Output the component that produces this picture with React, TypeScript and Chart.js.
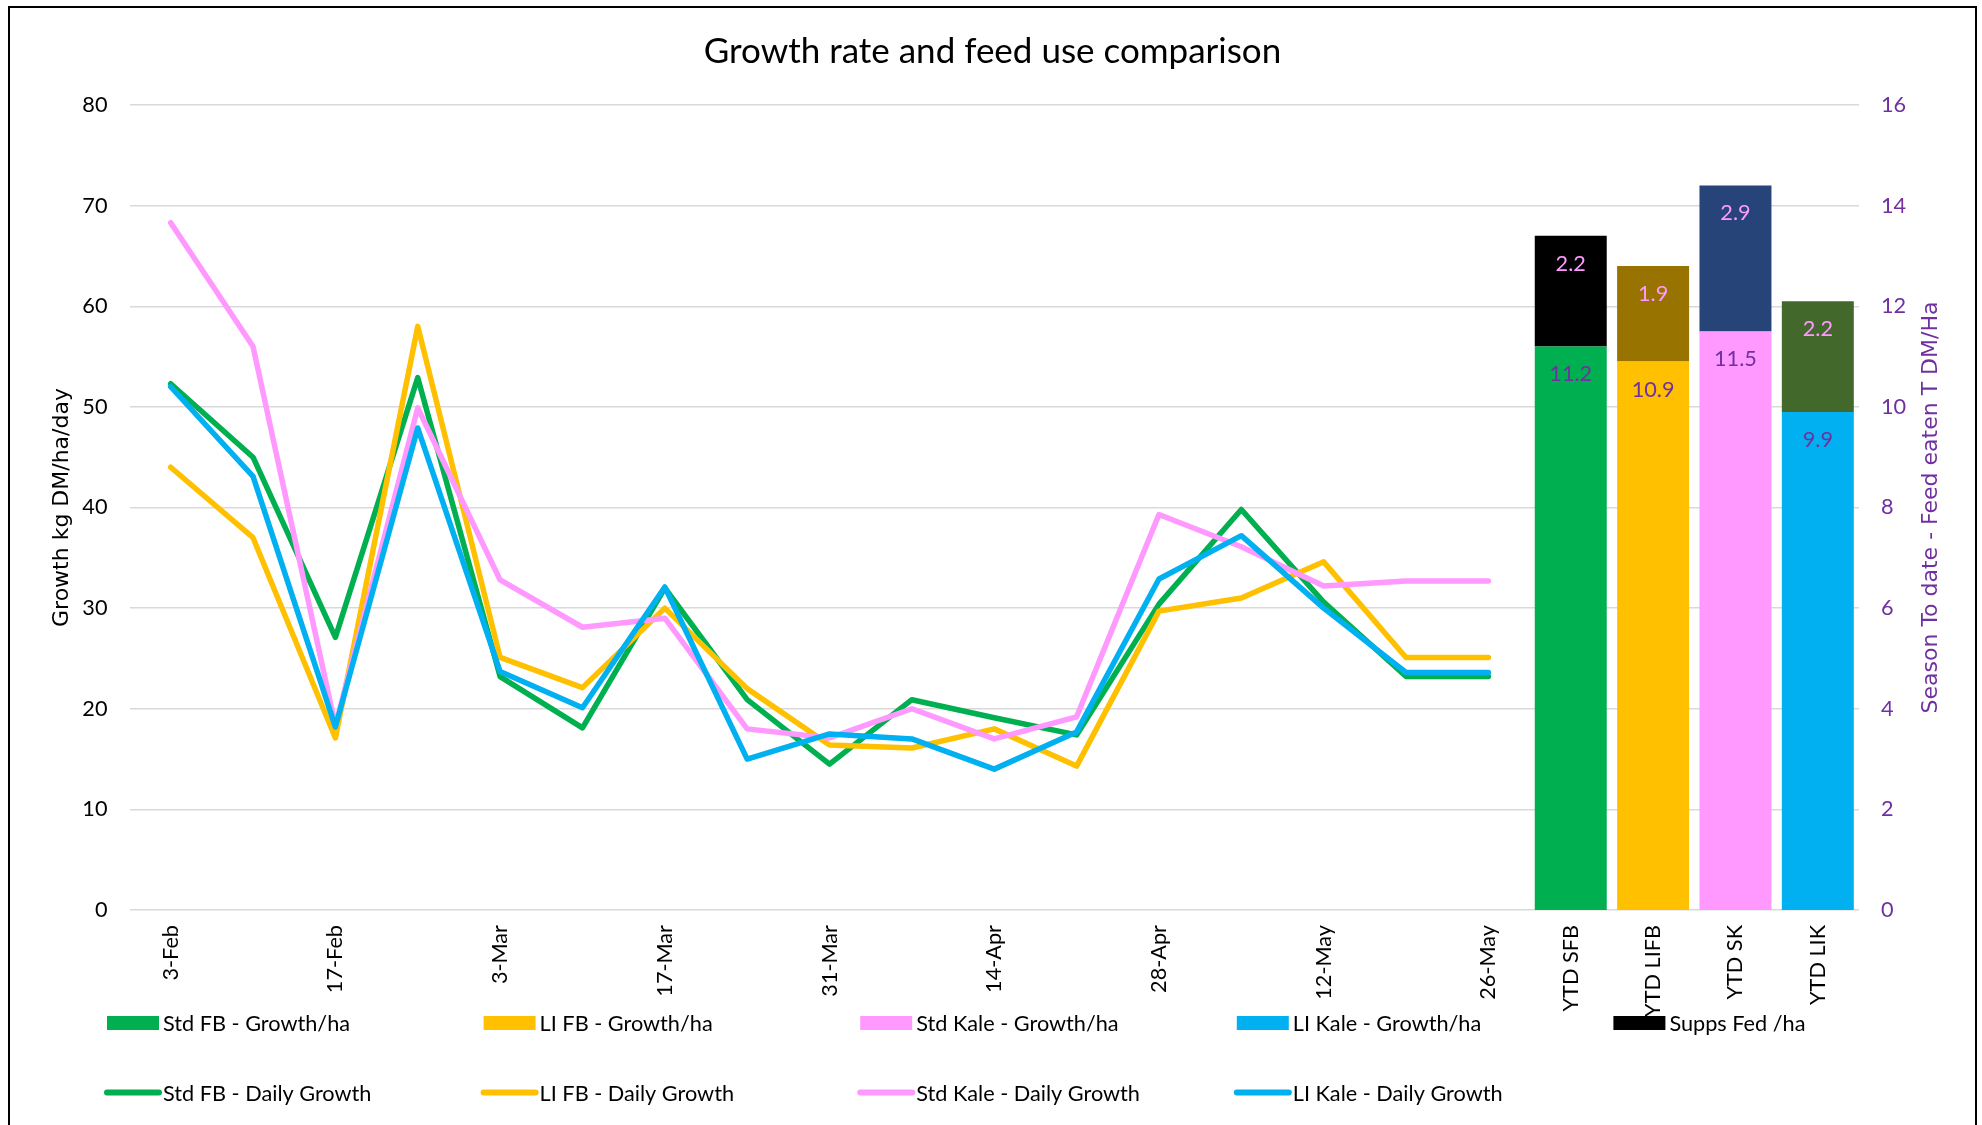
import React, { useEffect, useRef } from 'react';
import { Chart, registerables } from 'chart.js';

Chart.register(...registerables);

const categories = [
  '3-Feb', '10-Feb', '17-Feb', '24-Feb', '3-Mar', '10-Mar', '17-Mar', '24-Mar', '31-Mar',
  '7-Apr', '14-Apr', '21-Apr', '28-Apr', '5-May', '12-May', '19-May', '26-May',
  'YTD SFB', 'YTD LIFB', 'YTD SK', 'YTD LIK',
];

const stdFbDaily = [52.3, 45.0, 27.1, 52.9, 23.2, 18.1, 32.0, 20.9, 14.5, 20.9, 19.1, 17.4, 30.4, 39.8, 30.6, 23.2, 23.2];
const liFbDaily = [44.0, 37.0, 17.1, 58.0, 25.1, 22.1, 30.0, 22.0, 16.4, 16.1, 18.0, 14.3, 29.7, 31.0, 34.6, 25.1, 25.1];
const stdKaleDaily = [68.3, 56.0, 18.3, 49.9, 32.8, 28.1, 29.0, 18.0, 17.1, 20.0, 17.0, 19.2, 39.3, 36.1, 32.2, 32.7, 32.7];
const liKaleDaily = [52.0, 43.1, 18.2, 47.9, 23.7, 20.1, 32.1, 15.0, 17.5, 17.0, 14.0, 17.7, 32.9, 37.2, 30.0, 23.6, 23.6];

const ytdGrowth = [11.2, 10.9, 11.5, 9.9];
const suppsFed = [2.2, 1.9, 2.9, 2.2];

const growthNames = ['Std FB - Growth/ha', 'LI FB - Growth/ha', 'Std Kale - Growth/ha', 'LI Kale - Growth/ha'];
const dailyNames = ['Std FB - Daily Growth', 'LI FB - Daily Growth', 'Std Kale - Daily Growth', 'LI Kale - Daily Growth'];
const suppsName = 'Supps Fed /ha';
const seriesColors = ['#00B050', '#FFC000', '#FF99FF', '#00B0F0'];
const suppsColors = ['#000000', '#997300', '#264478', '#43682B'];
const suppsLegendColor = '#000000';

const chartTitle = 'Growth rate and feed use comparison';
const leftAxisTitle = 'Growth kg DM/ha/day';
const rightAxisTitle = 'Season To date - Feed eaten T DM/Ha';

const PURPLE = '#7030A0';
const LABEL_PINK = '#FF99FF';
const CAL = 'Lato, "Noto Sans", sans-serif';
const VER = '"DejaVu Sans", Verdana, sans-serif';
const SMALL = 21.7;

const firstYtd = stdFbDaily.length;

const legendPlugin = {
  id: 'customLegend',
  afterDraw(chart: any) {
    const ctx = chart.ctx;
    const ds = chart.data.datasets;
    const colX0 = 97;
    const colStep = 376.6;
    const rowY = [1015, 1084.6];
    ctx.save();
    ctx.font = `${SMALL}px ${CAL}`;
    ctx.textBaseline = 'middle';
    ctx.textAlign = 'left';
    ds.forEach((d: any, i: number) => {
      const row = d.type === 'bar' ? 0 : 1;
      const col = row === 0 ? i : i - 5;
      const x = colX0 + col * colStep;
      const y = rowY[row];
      if (row === 0) {
        ctx.fillStyle = d.legendColor;
        ctx.fillRect(x, y - 7, 52, 14);
      } else {
        ctx.strokeStyle = d.borderColor;
        ctx.lineWidth = 6;
        ctx.lineCap = 'round';
        ctx.beginPath();
        ctx.moveTo(x, y);
        ctx.lineTo(x + 52, y);
        ctx.stroke();
      }
      ctx.fillStyle = '#000000';
      ctx.fillText(d.label, x + 56, y + 1);
    });
    // right axis title, reading bottom to top
    const ca = chart.chartArea;
    ctx.translate(ca.right + 72, (ca.top + ca.bottom) / 2);
    ctx.rotate(-Math.PI / 2);
    ctx.font = `22px ${VER}`;
    ctx.fillStyle = PURPLE;
    ctx.textAlign = 'center';
    ctx.fillText(rightAxisTitle, 0, 0);
    ctx.restore();
  },
};

const barLabelPlugin = {
  id: 'barLabels',
  afterDatasetsDraw(chart: any) {
    const ctx = chart.ctx;
    ctx.save();
    ctx.font = `${SMALL}px ${CAL}`;
    ctx.textAlign = 'center';
    ctx.textBaseline = 'middle';
    chart.data.datasets.forEach((d: any, di: number) => {
      if (d.type !== 'bar') return;
      const meta = chart.getDatasetMeta(di);
      meta.data.forEach((el: any, i: number) => {
        const v = d.data[i];
        if (v === null || v === undefined) return;
        ctx.fillStyle = d.labelColor;
        ctx.fillText(Number(v).toFixed(1), el.x, el.y + 28);
      });
    });
    ctx.restore();
  },
};

export default function App() {
  const ref = useRef<HTMLCanvasElement>(null);

  useEffect(() => {
    document.body.style.overflow = 'hidden';
    document.documentElement.style.overflow = 'hidden';
    const canvas = ref.current;
    if (!canvas) return;

    const growthBars = growthNames.map((name, k) => ({
      type: 'bar' as const,
      label: name,
      data: categories.map((_, i) => (i === firstYtd + k ? ytdGrowth[k] : null)),
      backgroundColor: seriesColors[k],
      legendColor: seriesColors[k],
      labelColor: PURPLE,
      yAxisID: 'y1',
      stack: 'ytd',
      order: 10,
      categoryPercentage: 1,
      barPercentage: 0.874,
    }));
    const suppsBar = {
      type: 'bar' as const,
      label: suppsName,
      data: categories.map((_, i) => (i >= firstYtd ? suppsFed[i - firstYtd] : null)),
      backgroundColor: categories.map((_, i) => (i >= firstYtd ? suppsColors[i - firstYtd] : 'transparent')),
      legendColor: suppsLegendColor,
      labelColor: LABEL_PINK,
      yAxisID: 'y1',
      stack: 'ytd',
      order: 10,
      categoryPercentage: 1,
      barPercentage: 0.874,
    };
    const dailySeries = [stdFbDaily, liFbDaily, stdKaleDaily, liKaleDaily];
    const lines = dailyNames.map((name, k) => ({
      type: 'line' as const,
      label: name,
      data: dailySeries[k],
      borderColor: seriesColors[k],
      backgroundColor: seriesColors[k],
      borderWidth: 5.5,
      pointRadius: 0,
      tension: 0,
      borderJoinStyle: 'round' as const,
      borderCapStyle: 'round' as const,
      yAxisID: 'y',
      order: 4 - k,
    }));

    const chart = new Chart(canvas, {
      data: {
        labels: categories,
        datasets: [...growthBars, suppsBar, ...lines] as any,
      },
      options: {
        animation: false,
        responsive: false,
        devicePixelRatio: 1,
        layout: { padding: { left: 0, right: 0, top: 0, bottom: 98 } },
        plugins: {
          legend: { display: false },
          tooltip: { enabled: false },
          title: {
            display: true,
            text: chartTitle,
            color: '#000000',
            font: { family: CAL, size: 35, weight: 'normal' },
            padding: { top: 22.5, bottom: 32.5 },
          },
        },
        scales: {
          x: {
            offset: true,
            grid: { display: false, drawTicks: false },
            border: { display: false },
            ticks: {
              autoSkip: false,
              maxRotation: 90,
              minRotation: 90,
              padding: 15,
              color: '#000000',
              font: { family: CAL, size: SMALL },
              callback: (_v: any, idx: number) =>
                idx < firstYtd && idx % 2 === 1 ? '' : categories[idx],
            },
            afterFit: (s: any) => { s.height = 125; },
          },
          y: {
            position: 'left',
            min: 0,
            max: 80,
            grid: { color: '#D9D9D9', lineWidth: 1.5, drawTicks: false },
            border: { display: false },
            ticks: {
              stepSize: 10,
              padding: 22,
              color: '#000000',
              font: { family: CAL, size: SMALL },
            },
            title: {
              display: true,
              text: leftAxisTitle,
              color: '#000000',
              font: { family: VER, size: 22 },
              padding: { top: 39, bottom: 0 },
            },
            afterFit: (s: any) => { s.width = 119.5; },
          },
          y1: {
            position: 'right',
            min: 0,
            max: 16,
            stacked: true,
            grid: { display: false, drawTicks: false },
            border: { display: false },
            ticks: {
              stepSize: 2,
              padding: 22,
              color: PURPLE,
              font: { family: CAL, size: SMALL },
            },
            afterFit: (s: any) => { s.width = 116; },
          },
        },
      } as any,
      plugins: [legendPlugin, barLabelPlugin],
    });

    return () => chart.destroy();
  }, []);

  return (
    <div
      style={{
        position: 'fixed',
        left: 8,
        top: 6,
        width: 1969,
        height: 1140,
        border: '2px solid #000',
        boxSizing: 'border-box',
        background: '#fff',
        overflow: 'hidden',
      }}
    >
      <canvas
        ref={ref}
        width={1965}
        height={1125}
        style={{ display: 'block', width: 1965, height: 1125 }}
      />
    </div>
  );
}
